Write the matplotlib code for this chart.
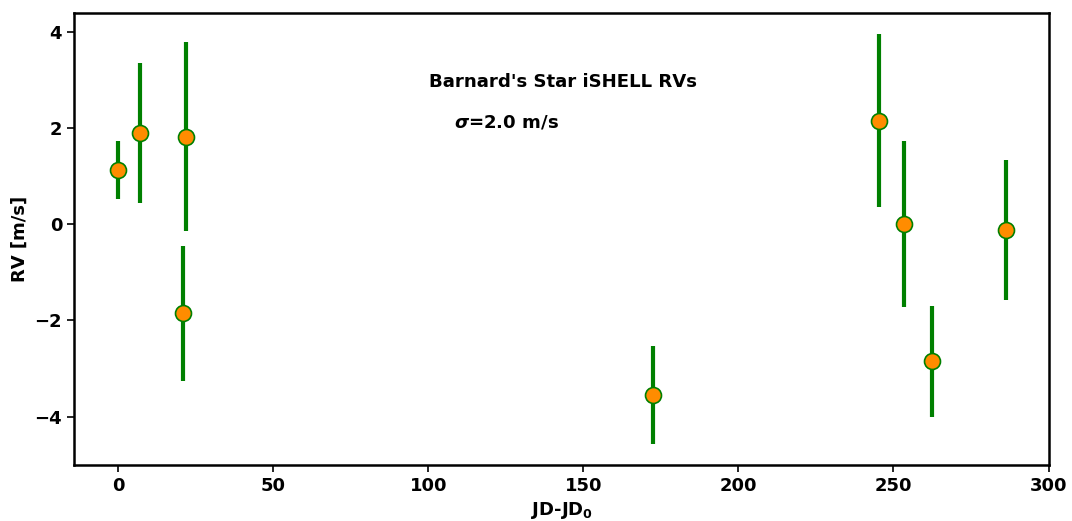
import matplotlib
matplotlib.use("Agg")
import matplotlib.pyplot as plt

jd = [0.0, 7.0, 21.8, 21.0, 172.5, 245.3, 253.3, 262.3, 286.3]
rv = [1.12, 1.90, 1.82, -1.85, -3.55, 2.15, 0.00, -2.85, -0.12]
err = [0.60, 1.45, 1.97, 1.40, 1.02, 1.80, 1.73, 1.16, 1.45]

plt.rcParams['font.weight'] = 'bold'
plt.rcParams['axes.labelweight'] = 'bold'
plt.rcParams['font.size'] = 13

fig, ax = plt.subplots(figsize=(10.72, 5.21), dpi=100)
fig.subplots_adjust(left=0.069, right=0.979, top=0.975, bottom=0.108)

ax.errorbar(jd, rv, yerr=err, fmt='o', color='green', ecolor='green',
            elinewidth=3, capsize=0, markersize=11.5, markerfacecolor='darkorange',
            markeredgecolor='green', markeredgewidth=1.2)

ax.set_xlim(-14.2, 300.3)
ax.set_ylim(-5.0, 4.39)
ax.set_xticks([0, 50, 100, 150, 200, 250, 300])
ax.set_yticks([-4, -2, 0, 2, 4])
ax.set_xlabel(r'JD-JD$_\mathbf{0}$', fontsize=13, fontweight='bold')
ax.set_ylabel('RV [m/s]', fontsize=13, fontweight='bold')
for s in ax.spines.values():
    s.set_linewidth(1.8)
ax.tick_params(width=1.2, length=5)

ax.text(100.3, 2.86, "Barnard's Star iSHELL RVs", fontsize=13.05, fontweight='bold')
ax.text(108.4, 2.01, r'$\boldsymbol{\sigma}$=2.0 m/s', fontsize=13.05, fontweight='bold')

fig.savefig('out.png', dpi=100)
